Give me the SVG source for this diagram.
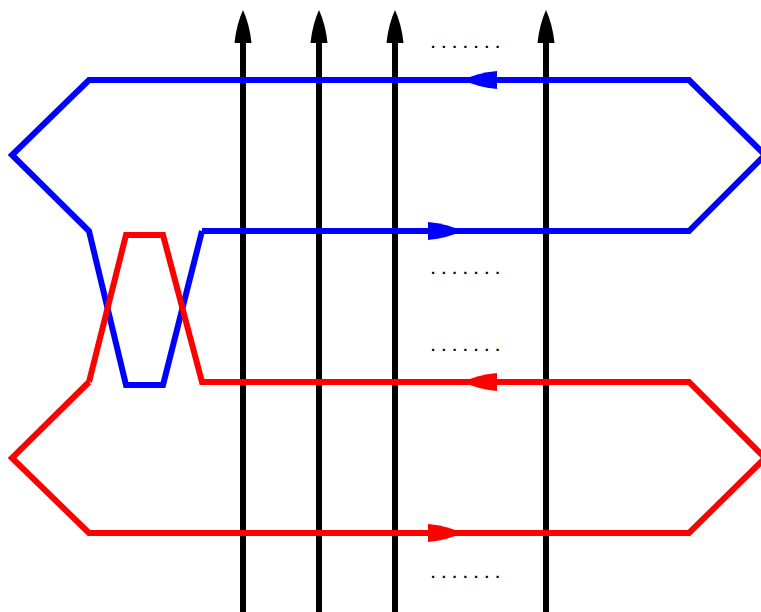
<svg xmlns="http://www.w3.org/2000/svg" width="761" height="612" viewBox="0 0 761 612">
<style>
.b{fill:none;stroke:#0000ff;stroke-width:6;stroke-linejoin:miter}
.r{fill:none;stroke:#ff0000;stroke-width:6;stroke-linejoin:miter}
.v{stroke:#000;stroke-width:6}
.dots{font-family:"Liberation Sans",sans-serif;font-size:15px;font-weight:bold;letter-spacing:6.6px;fill:#000}
</style>
<defs>
<path id="ahL" d="M0,0 Q14,-7 34,-9 L34,9 Q14,7 0,0 Z"/>
<path id="ahR" d="M0,0 Q-14,-7 -34,-9 L-34,9 Q-14,7 0,0 Z"/>
<path id="ahU" d="M0,0 Q-6.5,14 -8.5,33 L8.5,33 Q6.5,14 0,0 Z"/>
</defs>
<rect width="761" height="612" fill="#fff"/>
<g id="connectors">
<g id="verticals">
<line class="v" x1="243" y1="612" x2="243" y2="36"/>
<line class="v" x1="319" y1="612" x2="319" y2="36"/>
<line class="v" x1="395" y1="612" x2="395" y2="36"/>
<line class="v" x1="546" y1="612" x2="546" y2="36"/>
<use href="#ahU" x="243" y="10" fill="#000"/>
<use href="#ahU" x="319" y="10" fill="#000"/>
<use href="#ahU" x="395" y="10" fill="#000"/>
<use href="#ahU" x="546" y="10" fill="#000"/>
</g>
<g id="blue-loop">
<polyline class="b" points="202,231 689,231 765,155 689,80 89,80 12,155 89,231 126,385 163,385 202,231"/>
<use href="#ahL" x="463" y="80" fill="#0000ff"/>
<use href="#ahR" x="462" y="231" fill="#0000ff"/>
</g>
<g id="red-loop">
<polyline class="r" points="89,382 12,458 89,533 689,533 765,458 689,382 202,382 163,235 126,235 89,382"/>
<use href="#ahL" x="463" y="382" fill="#ff0000"/>
<use href="#ahR" x="462" y="533" fill="#ff0000"/>
</g>
</g>
<g id="labels">
<text class="dots" x="431" y="48">.......</text>
<text class="dots" x="431" y="274">.......</text>
<text class="dots" x="431" y="351">.......</text>
<text class="dots" x="431" y="578">.......</text>
</g>
</svg>
